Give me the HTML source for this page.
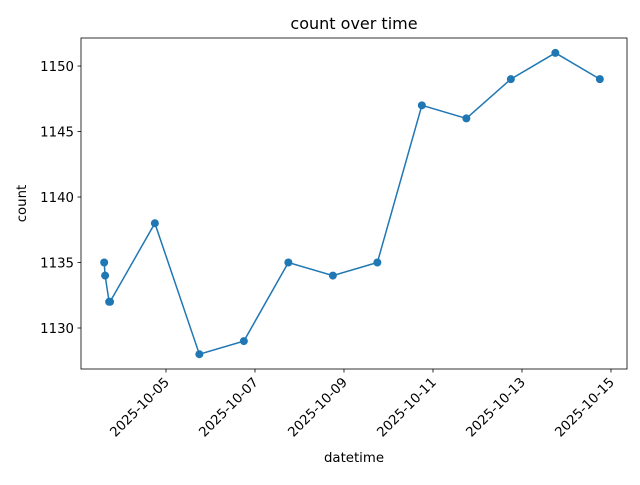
<!DOCTYPE html>
<html><head><meta charset="utf-8"><style>
body{margin:0;background:#fff;font-family:"Liberation Sans","DejaVu Sans",sans-serif;}
svg text{font-family:"DejaVu Sans","Liberation Sans",sans-serif;}
</style></head><body>
<svg id="chart" width="640" height="480" xmlns="http://www.w3.org/2000/svg"></svg>
<script>
const timestamps = ["2025-10-03T14:40","2025-10-03T15:10","2025-10-03T17:20","2025-10-03T17:50","2025-10-04T18:00","2025-10-05T18:00","2025-10-06T18:00","2025-10-07T18:00","2025-10-08T18:00","2025-10-09T18:00","2025-10-10T18:00","2025-10-11T18:00","2025-10-12T18:00","2025-10-13T18:00","2025-10-14T18:00"];
const counts = [1135,1134,1132,1132,1138,1128,1129,1135,1134,1135,1147,1146,1149,1151,1149];
const xTickLabels = ["2025-10-05","2025-10-07","2025-10-09","2025-10-11","2025-10-13","2025-10-15"];
const yTicks = [1130,1135,1140,1145,1150];

const NS="http://www.w3.org/2000/svg";
const svg=document.getElementById('chart');
const L=81,R=627,T=38,B=369;
const base=Date.parse("2025-10-05T00:00");
const day=86400000;
function dayOf(s){return (Date.parse(s)-base)/day;}
const xMin=-1.91,xMax=10.36,yMin=1126.87,yMax=1152.14;
function X(d){return L+(d-xMin)/(xMax-xMin)*(R-L);}
function Y(v){return B-(v-yMin)/(yMax-yMin)*(B-T);}
function mk(tag,attrs,parent){const e=document.createElementNS(NS,tag);for(const k in attrs)e.setAttribute(k,attrs[k]);(parent||svg).appendChild(e);return e;}

const frame=mk('rect',{x:L,y:T,width:R-L,height:B-T,fill:'none',stroke:'#000','stroke-width':0.8});



yTicks.forEach(v=>{
  const y=Y(v);
  const t=mk('line',{x1:L-3.5,x2:L,y1:y,y2:y,stroke:'#000','stroke-width':0.8});
  
  
  const tx=mk('text',{x:L-7,y:y+5,'font-size':13.3,'text-anchor':'end'});
  tx.textContent=v;
  
  
});
xTickLabels.forEach(s=>{
  const x=X(dayOf(s+"T00:00"));
  const t=mk('line',{x1:x,x2:x,y1:B,y2:B+3.5,stroke:'#000','stroke-width':0.8});
  
  
  const tx=mk('text',{x:x+4,y:B+14,'font-size':13.3,'text-anchor':'end',transform:`rotate(-45 ${x+4} ${B+14})`});
  tx.textContent=s;
  
  
});

const pts=timestamps.map((s,i)=>[X(dayOf(s)),Y(counts[i])]);
const line=mk('polyline',{points:pts.map(p=>p.join(',')).join(' '),fill:'none',stroke:'#1f77b4','stroke-width':1.5});


pts.forEach(p=>{
  const c=mk('circle',{cx:p[0],cy:p[1],r:4,fill:'#1f77b4'});
  
  
});

const title=mk('text',{x:(L+R)/2,y:29,'font-size':16,'text-anchor':'middle'});
title.textContent='count over time';


const xl=mk('text',{x:(L+R)/2,y:462,'font-size':13.3,'text-anchor':'middle'});
xl.textContent='datetime';


const yl=mk('text',{x:26,y:(T+B)/2,'font-size':13.3,'text-anchor':'middle',transform:`rotate(-90 26 ${(T+B)/2})`});
yl.textContent='count';


</script>
</body></html>
